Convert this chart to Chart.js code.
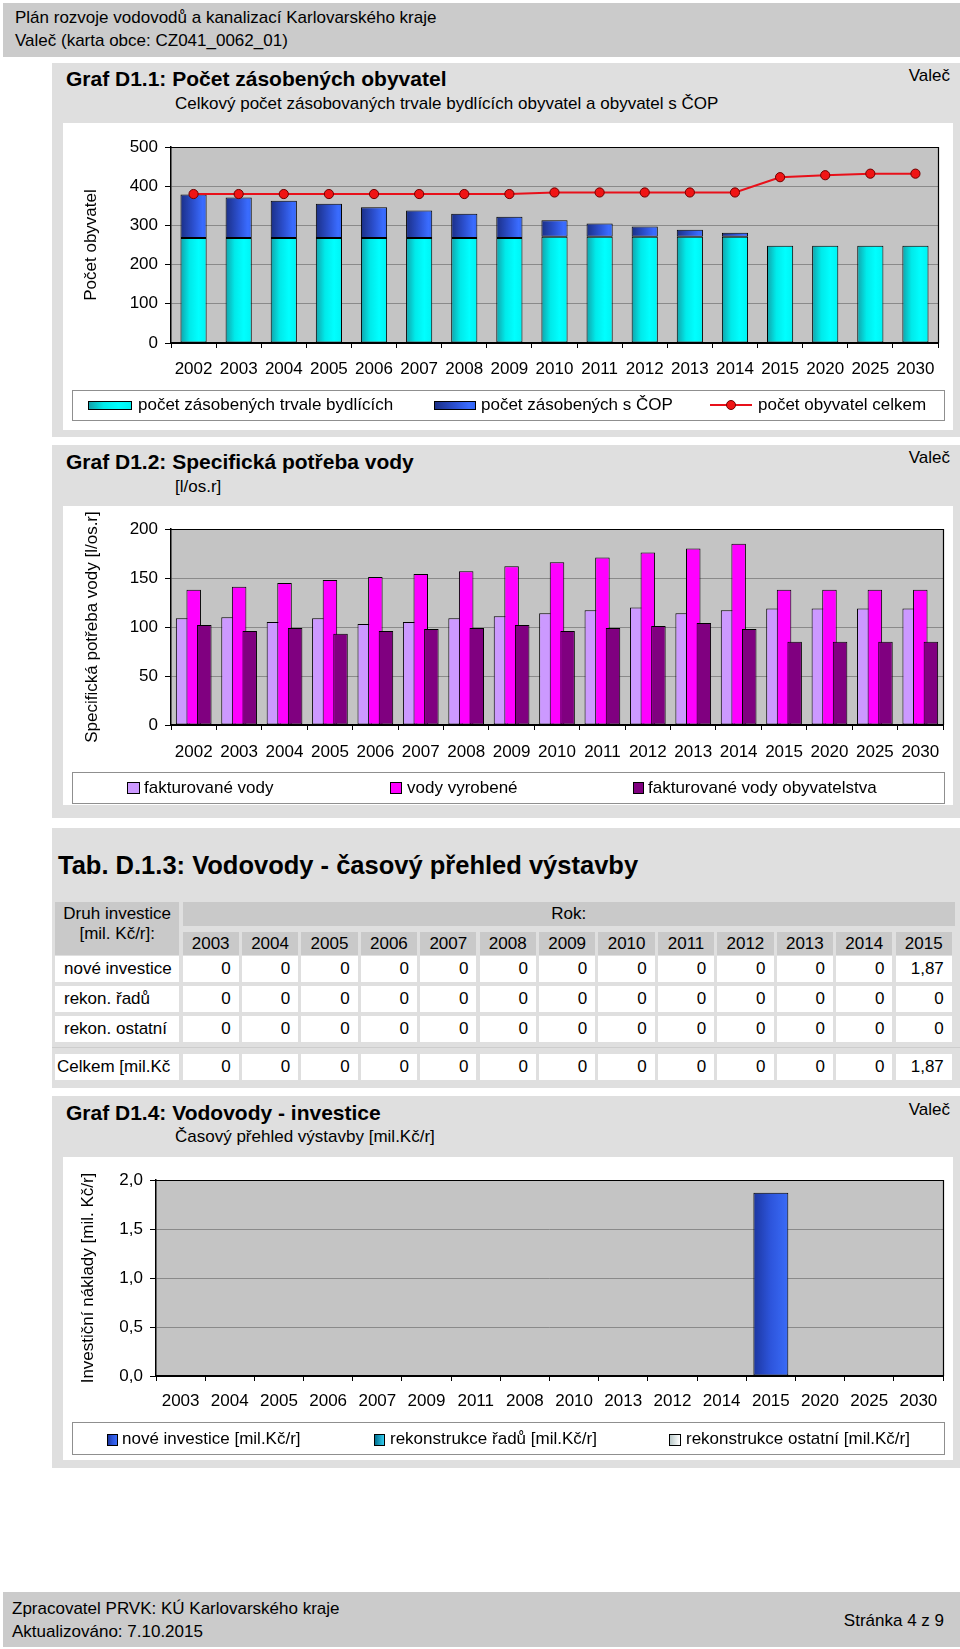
<!DOCTYPE html>
<html lang="cs"><head><meta charset="utf-8"><title>Valeč</title>
<script src="https://cdn.jsdelivr.net/npm/chart.js@4.4.1/dist/chart.umd.min.js"></script>
<style>
html,body{margin:0;padding:0}
body{width:960px;height:1649px;position:relative;overflow:hidden;background:#fff;font-family:"Liberation Sans",Arial,Helvetica,sans-serif;color:#000;font-size:17px}
.txt{position:absolute;white-space:nowrap;line-height:17px;font-size:17px}
.band{position:absolute;background:#cbcbcb}
.panel{position:absolute;background:#dfdfdf}
.white{position:absolute;background:#fff}
.ttl{font-weight:bold;font-size:21px;line-height:21px}
.frame{position:absolute;border:1px solid #8f8f8f;box-sizing:border-box}
.sw{position:absolute;border:1px solid #000;box-sizing:border-box}
.cell{position:absolute;background:#fff;box-sizing:border-box;white-space:nowrap;font-size:17px;overflow:hidden}
.hc{background:#c9c9c9}
canvas{position:absolute;left:0;top:0}
</style></head><body>

<div class="band" style="left:3px;top:3px;width:957px;height:54px"></div>
<div class="txt" style="left:15px;top:9px">Plán rozvoje vodovodů a kanalizací Karlovarského kraje</div>
<div class="txt" style="left:15px;top:32px">Valeč (karta obce: CZ041_0062_01)</div>

<!-- Graf D1.1 -->
<div class="panel" style="left:52px;top:63px;width:908px;height:374px"></div>
<div class="txt ttl" style="left:66px;top:68px">Graf D1.1: Počet zásobených obyvatel</div>
<div class="txt" style="right:10px;top:67px">Valeč</div>
<div class="txt" style="left:175px;top:95px">Celkový počet zásobovaných trvale bydlících obyvatel a obyvatel s ČOP</div>
<div class="white" id="w1" style="left:63px;top:123px;width:890px;height:307px"><canvas id="c1" width="890" height="307"></canvas></div>

<!-- Graf D1.2 -->
<div class="panel" style="left:52px;top:445px;width:908px;height:373px"></div>
<div class="txt ttl" style="left:66px;top:451px">Graf D1.2: Specifická potřeba vody</div>
<div class="txt" style="right:10px;top:449px">Valeč</div>
<div class="txt" style="left:175px;top:478px">[l/os.r]</div>
<div class="white" id="w2" style="left:63px;top:506px;width:890px;height:299px"><canvas id="c2" width="890" height="299"></canvas></div>

<!-- Tab D.1.3 -->
<div class="panel" style="left:52px;top:828px;width:908px;height:260px"></div>
<div class="txt" style="left:58px;top:852px;font-weight:bold;font-size:25.5px;line-height:26px">Tab. D.1.3: Vodovody - časový přehled výstavby</div>
<div id="tab"></div>

<!-- Graf D1.4 -->
<div class="panel" style="left:52px;top:1096px;width:908px;height:372px"></div>
<div class="txt ttl" style="left:66px;top:1102px">Graf D1.4: Vodovody - investice</div>
<div class="txt" style="right:10px;top:1101px">Valeč</div>
<div class="txt" style="left:175px;top:1128px">Časový přehled výstavby [mil.Kč/r]</div>
<div class="white" id="w4" style="left:63px;top:1157px;width:890px;height:303px"><canvas id="c4" width="890" height="303"></canvas></div>

<div class="band" style="left:3px;top:1592px;width:957px;height:55px"></div>
<div class="txt" style="left:12px;top:1600px">Zpracovatel PRVK: KÚ Karlovarského kraje</div>
<div class="txt" style="left:12px;top:1623px">Aktualizováno: 7.10.2015</div>
<div class="txt" style="right:16px;top:1612px">Stránka 4 z 9</div>

<script>
// ---------- DATA ----------
const years = ['2002','2003','2004','2005','2006','2007','2008','2009','2010','2011','2012','2013','2014','2015','2020','2025','2030'];
const trvaleBydlici = [268,268,268,268,268,268,268,268,271,271,271,271,271,248,248,248,248];
const zasobeniCOP   = [111,103,95,87,78,70,62,54,42,34,26,18,10,0,0,0,0];
const obyvatelCelkem = [380,380,380,380,380,380,380,380,384,384,384,384,384,423,428,432,432];
const seriesNames1 = ['počet zásobených trvale bydlících','počet zásobených s ČOP','počet obyvatel celkem'];
const yTicks1 = {max:500, step:100};

const fakturovane    = [109,110,105,109,103,105,109,111,114,117,120,114,117,119,119,119,119];
const vyrobene       = [138,141,145,148,151,154,157,162,166,171,176,180,185,138,138,138,138];
const fakturovaneObyv= [102,96,99,93,96,98,99,102,96,99,101,104,98,85,85,85,85];
const seriesNames2 = ['fakturované vody','vody vyrobené','fakturované vody obyvatelstva'];
const yTicks2 = {max:200, step:50};

const tableYears = ['2003','2004','2005','2006','2007','2008','2009','2010','2011','2012','2013','2014','2015'];
const tableRowNames = ['nové investice','rekon. řadů','rekon. ostatní'];
const tabNove    = [0,0,0,0,0,0,0,0,0,0,0,0,1.87];
const tabRadu    = [0,0,0,0,0,0,0,0,0,0,0,0,0];
const tabOstatni = [0,0,0,0,0,0,0,0,0,0,0,0,0];
const tabCelkemName = 'Celkem [mil.Kč';
const tabCelkem  = [0,0,0,0,0,0,0,0,0,0,0,0,1.87];

const years4 = ['2003','2004','2005','2006','2007','2009','2011','2008','2010','2013','2012','2014','2015','2020','2025','2030'];
const noveInvestice4 = [0,0,0,0,0,0,0,0,0,0,0,0,1.87,0,0,0];
const rekonRadu4     = [0,0,0,0,0,0,0,0,0,0,0,0,0,0,0,0];
const rekonOstatni4  = [0,0,0,0,0,0,0,0,0,0,0,0,0,0,0,0];
const seriesNames4 = ['nové investice [mil.Kč/r]','rekonstrukce řadů [mil.Kč/r]','rekonstrukce ostatní [mil.Kč/r]'];
const yTicks4 = {max:2, step:0.5};

// ---------- STYLE ----------
const FONT = "'Liberation Sans', Arial, Helvetica, sans-serif";
Chart.defaults.font.family = FONT;
Chart.defaults.font.size = 17;
Chart.defaults.color = '#000';
Chart.defaults.animation = false;

const cyanStops = [[0,'#12a2aa'],[0.35,'#00eaea'],[0.7,'#00ffff'],[1,'#00f2f2']];
const blueStops = [[0,'#1b2f86'],[0.5,'#2c50d0'],[0.85,'#3a6cff'],[1,'#3366f5']];
const blue4Stops = [[0,'#1c36a0'],[0.5,'#2d55dc'],[1,'#3a6cf8']];
const tealStops = [[0,'#007090'],[1,'#33ccee']];
const lightStops = [[0,'#b8c8c8'],[1,'#ffffff']];
const cssGrad = s => 'linear-gradient(to right,' + s.map(([o,c]) => c + ' ' + (o*100) + '%').join(',') + ')';

function hGrad(stops, pct){
  return function(c){
    const ch = c.chart, xs = ch.scales && ch.scales.x;
    if (c.type !== 'data' || !xs || !ch.chartArea) return stops[1][1];
    const n = xs.getLabels().length;
    const w = xs.width / n * pct;
    const cx = xs.getPixelForValue(c.dataIndex);
    if (!isFinite(cx)) return stops[1][1];
    const g = ch.ctx.createLinearGradient(cx - w/2, 0, cx + w/2, 0);
    for (const [o, col] of stops) g.addColorStop(o, col);
    return g;
  };
}

const plotFrame = {
  id:'plotFrame',
  beforeDraw(chart){
    const {ctx, chartArea:a} = chart;
    ctx.save(); ctx.fillStyle = '#c4c4c4'; ctx.fillRect(a.left, a.top, a.width, a.height); ctx.restore();
  },
  afterDraw(chart){
    const {ctx, chartArea:a} = chart;
    ctx.save(); ctx.strokeStyle = '#000'; ctx.lineWidth = 1.2;
    ctx.beginPath(); ctx.moveTo(a.left, a.top + 0.5); ctx.lineTo(a.right + 0.5, a.top + 0.5); ctx.lineTo(a.right + 0.5, a.bottom); ctx.stroke();
    ctx.restore();
  }
};
const forwardDraw = {
  id:'forwardDraw',
  beforeDatasetsDraw(chart){
    for (const m of chart.getSortedVisibleDatasetMetas()) m.controller.draw();
    return false;
  }
};

function makeScales(o){
  return {
    x: {
      stacked: o.stacked, offset: true,
      grid: {display:true, drawOnChartArea:false, drawTicks:true, tickLength:5, tickColor:'#000', offset:true},
      border: {display:true, color:'#000', width:2},
      ticks: {padding:o.xPad, maxRotation:0, minRotation:0, autoSkip:false, color:'#000'},
      afterFit(s){ s.height = 40; }
    },
    y: {
      stacked: o.stacked, min:0, max:o.max,
      ticks: {stepSize:o.step, padding:7, color:'#000', callback: o.fmt || (v => String(v))},
      grid: {color:'#8a8a8a', lineWidth:1, drawTicks:true, tickLength:6, tickColor:'#000'},
      border: {color:'#000', width:1.5},
      title: {display:true, text:o.title, color:'#000', font:{size:17}, padding:{top:o.titlePad, bottom:0}},
      afterFit(s){ s.width = o.yWidth; }
    }
  };
}
const baseOpts = (pad, scales) => ({
  responsive:false, animation:false, events:[],
  layout:{padding:pad},
  plugins:{legend:{display:false}, tooltip:{enabled:false}},
  scales
});

// ---------- CHART 1 ----------
const ch1 = new Chart(document.getElementById('c1'), {
  type:'bar',
  data:{
    labels: years,
    datasets:[
      {label:seriesNames1[0], data:trvaleBydlici, order:1, backgroundColor:hGrad(cyanStops,0.58), borderColor:'#000', borderWidth:1, borderSkipped:false, barPercentage:0.58, categoryPercentage:1},
      {label:seriesNames1[1], data:zasobeniCOP, order:1, backgroundColor:hGrad(blueStops,0.58), borderColor:'#000', borderWidth:1, borderSkipped:false, barPercentage:0.58, categoryPercentage:1},
      {label:seriesNames1[2], data:obyvatelCelkem, type:'line', order:0, borderColor:'#e8101a', borderWidth:2, pointRadius:4.6, pointBackgroundColor:'#f01414', pointBorderColor:'#700000', pointBorderWidth:1, tension:0, fill:false}
    ]
  },
  options: baseOpts({top:24, right:15, left:0, bottom:47},
    makeScales({stacked:true, max:yTicks1.max, step:yTicks1.step, title:'Počet obyvatel', titlePad:18, yWidth:108, xPad:11})),
  plugins:[plotFrame]
});

// ---------- CHART 2 ----------
const ch2 = new Chart(document.getElementById('c2'), {
  type:'bar',
  data:{
    labels: years,
    datasets:[
      {label:seriesNames2[0], data:fakturovane, backgroundColor:'#cc99ff', borderColor:'#000', borderWidth:1, borderSkipped:false, barPercentage:1.37, categoryPercentage:0.70},
      {label:seriesNames2[1], data:vyrobene, backgroundColor:'#ff00ff', borderColor:'#000', borderWidth:1, borderSkipped:false, barPercentage:1.37, categoryPercentage:0.70},
      {label:seriesNames2[2], data:fakturovaneObyv, backgroundColor:'#800080', borderColor:'#000', borderWidth:1, borderSkipped:false, barPercentage:1.37, categoryPercentage:0.70}
    ]
  },
  options: baseOpts({top:23, right:10, left:0, bottom:40},
    makeScales({stacked:false, max:yTicks2.max, step:yTicks2.step, title:'Specifická potřeba vody [l/os.r]', titlePad:19, yWidth:108, xPad:12})),
  plugins:[plotFrame, forwardDraw]
});

// ---------- CHART 4 ----------
const comma1 = v => Number(v).toFixed(1).replace('.', ',');
const ch4 = new Chart(document.getElementById('c4'), {
  type:'bar',
  data:{
    labels: years4,
    datasets:[
      {label:seriesNames4[0], data:noveInvestice4, backgroundColor:hGrad(blue4Stops,0.71), borderColor:'#000', borderWidth:1, borderSkipped:false, barPercentage:0.71, categoryPercentage:1},
      {label:seriesNames4[1], data:rekonRadu4, backgroundColor:hGrad(tealStops,0.71), borderColor:'#000', borderWidth:1, borderSkipped:false, barPercentage:0.71, categoryPercentage:1},
      {label:seriesNames4[2], data:rekonOstatni4, backgroundColor:hGrad(lightStops,0.71), borderColor:'#000', borderWidth:1, borderSkipped:false, barPercentage:0.71, categoryPercentage:1}
    ]
  },
  options: baseOpts({top:23, right:10, left:0, bottom:44},
    makeScales({stacked:true, max:yTicks4.max, step:yTicks4.step, fmt:comma1, title:'Investiční náklady [mil. Kč/r]', titlePad:15, yWidth:93, xPad:10})),
  plugins:[plotFrame]
});

// ---------- HTML LEGENDS ----------
function el(parent, cls, css, text){
  const d = document.createElement('div');
  if (cls) d.className = cls;
  Object.assign(d.style, css);
  if (text !== undefined) d.textContent = text;
  parent.appendChild(d);
  return d;
}
const px = v => v + 'px';
function buildLegend(wrapId, chart, frame, items){
  const w = document.getElementById(wrapId);
  el(w, 'frame', {left:px(frame[0]), top:px(frame[1]), width:px(frame[2]), height:px(frame[3])});
  chart.data.datasets.forEach((ds, i) => {
    const it = items[i];
    if (it.line){
      el(w, '', {position:'absolute', left:px(it.x), top:px(it.cy - 1), width:px(it.w), height:'2px', background:'#e8101a'});
      el(w, '', {position:'absolute', left:px(it.mx - 5), top:px(it.cy - 5), width:'10px', height:'10px', borderRadius:'50%', background:'#f01414', border:'1px solid #700000', boxSizing:'border-box'});
    } else {
      el(w, 'sw', {left:px(it.x), top:px(it.y), width:px(it.w), height:px(it.h), background:it.bg});
    }
    el(w, 'txt', {left:px(it.tx), top:px(273)}, ds.label);
  });
}
buildLegend('w1', ch1, [9,267,873,31], [
  {x:25, y:278, w:44, h:9, bg:cssGrad(cyanStops), tx:75},
  {x:371, y:278, w:42, h:9, bg:cssGrad(blueStops), tx:418},
  {line:true, x:647, w:42, cy:282, mx:667.5, tx:695}
]);
buildLegend('w2', ch2, [9,266,873,32], [
  {x:64, y:276, w:13, h:12, bg:'#cc99ff', tx:81},
  {x:327, y:276, w:12, h:12, bg:'#ff00ff', tx:344},
  {x:570, y:276, w:11, h:12, bg:'#800080', tx:585}
]);
buildLegend('w4', ch4, [9,265,873,33], [
  {x:44, y:277, w:11, h:12, bg:cssGrad(blue4Stops), tx:59},
  {x:311, y:277, w:11, h:12, bg:cssGrad(tealStops), tx:327},
  {x:606, y:277, w:12, h:12, bg:cssGrad(lightStops), tx:623}
]);

// ---------- TABLE ----------
(function(){
  const t = document.body;
  const fmt = v => String(v).replace('.', ',');
  const x0 = 182.5, pitch = 59.42, cw = 56.3;
  el(t, 'cell hc', {left:'55px', top:'901.7px', width:'124.4px', height:'53.3px', textAlign:'center', lineHeight:'20px', paddingTop:'2px'}).innerHTML = 'Druh investice<br>[mil. Kč/r]:';
  el(t, 'cell hc', {left:px(x0), top:'901.7px', width:px(955 - x0), height:'24.3px', textAlign:'center', lineHeight:'24.3px'}, 'Rok:');
  tableYears.forEach((y, i) => el(t, 'cell hc', {left:px(x0 + i*pitch), top:'931.7px', width:px(cw), height:'23.3px', textAlign:'center', lineHeight:'23.3px'}, y));
  const rows = [[tableRowNames[0], tabNove, 956, 9], [tableRowNames[1], tabRadu, 985.5, 9], [tableRowNames[2], tabOstatni, 1015.5, 9], [tabCelkemName, tabCelkem, 1054, 2]];
  rows.forEach(([name, vals, top, pl]) => {
    el(t, 'cell', {left:'55px', top:px(top), width:'124.4px', height:'26px', lineHeight:'26px', paddingLeft:px(pl)}, name);
    vals.forEach((v, i) => el(t, 'cell', {left:px(x0 + i*pitch), top:px(top), width:px(cw), height:'26px', lineHeight:'26px', textAlign:'right', paddingRight:'8px'}, fmt(v)));
  });
  el(t, '', {position:'absolute', left:'52px', top:'1047px', width:'908px', height:'1px', background:'#cdcdcd'});
})();
</script>
</body></html>
